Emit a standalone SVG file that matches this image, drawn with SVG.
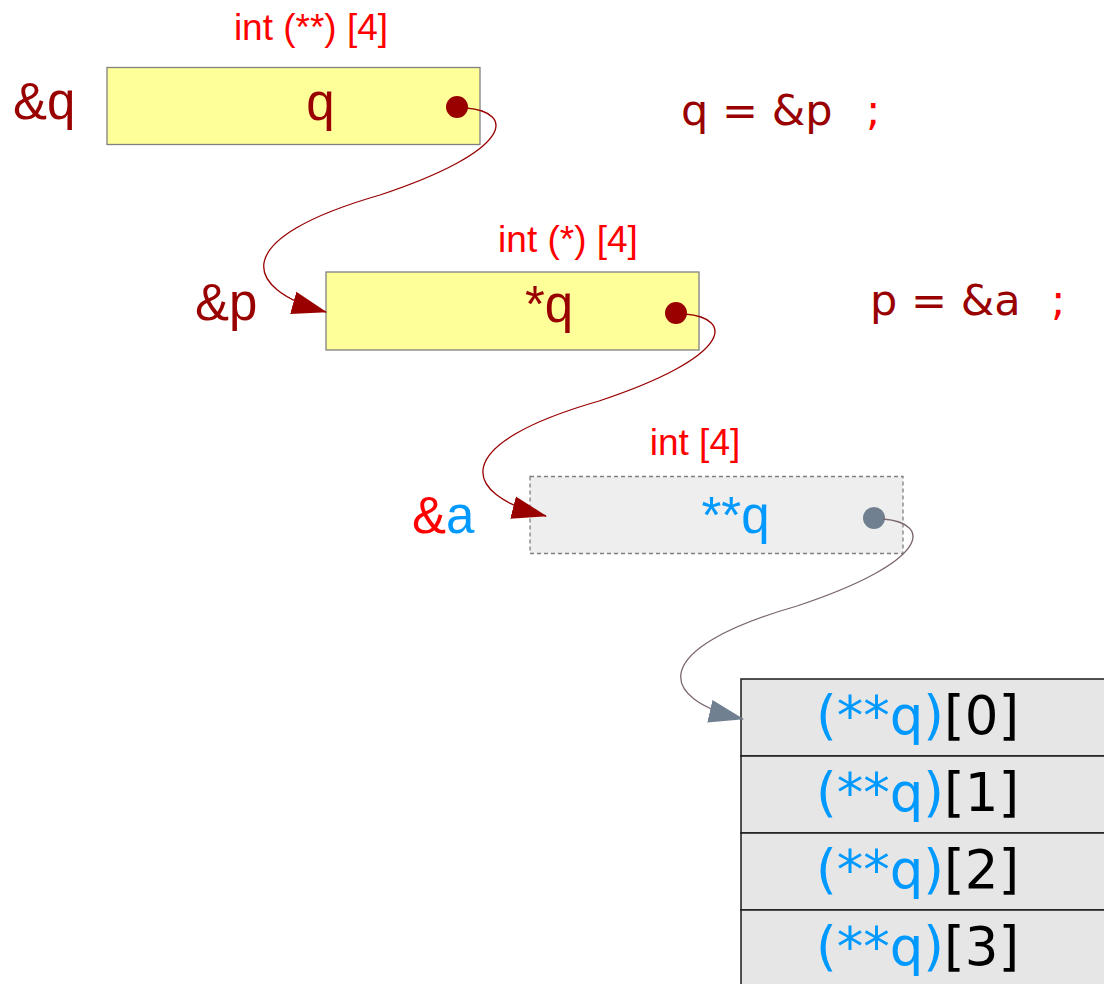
<svg xmlns="http://www.w3.org/2000/svg" width="1104" height="984" viewBox="0 0 1104 984">
<defs>
<style>
.lbl{font-family:"Liberation Sans",Arial,sans-serif;font-size:51px;fill:#990000}
.typ{font-family:"Liberation Sans",Arial,sans-serif;font-size:37px;fill:#ff0000;text-anchor:middle}
.stmt{font-family:"DejaVu Sans",sans-serif;font-size:43px;fill:#990000}
.semi{fill:#ff0000}
.box{fill:#ffff99;stroke:#808080;stroke-width:1.3}
.box3{fill:#eeeeee;stroke:#808080;stroke-width:1.3;stroke-dasharray:4 3}
.cell{fill:#e6e6e6;stroke:#1a1a1a;stroke-width:1.5}
.arr{font-family:"DejaVu Sans",sans-serif;font-size:53px;fill:#000000}
.blue{fill:#0099ff}
.c1{fill:none;stroke:#990000;stroke-width:1.3}
.c3{fill:none;stroke:#7a6672;stroke-width:1.3}
</style>
<marker id="ahRed" markerUnits="userSpaceOnUse" markerWidth="36" markerHeight="26" viewBox="0 -13 36 26" refX="34" refY="0" orient="auto">
<path d="M0,-11.5 L35,0 L0,11.5 z" fill="#990000"/>
</marker>
<marker id="ahGray" markerUnits="userSpaceOnUse" markerWidth="36" markerHeight="26" viewBox="0 -13 36 26" refX="34" refY="0" orient="auto">
<path d="M0,-11.5 L35,0 L0,11.5 z" fill="#708090"/>
</marker>
<path id="conn" d="M9,1 C58,5 58,43 -77,88 C-227,131 -217,181 -131,205"/>
</defs>
<rect width="1104" height="984" fill="#ffffff"/>

<g id="node-q">
<text class="typ" x="311" y="40">int (**) [4]</text>
<text class="lbl" x="13" y="119">&amp;q</text>
<rect class="box" x="107" y="67.5" width="373" height="77"/>
<text class="lbl" x="320.5" y="120" text-anchor="middle">q</text>
<circle cx="457" cy="107" r="11" fill="#990000"/>
</g>

<g id="node-p">
<text class="typ" x="568" y="252">int (*) [4]</text>
<text class="lbl" x="195" y="320">&amp;p</text>
<rect class="box" x="326" y="272" width="373" height="78"/>
<text class="lbl" x="549" y="322" text-anchor="middle">*q</text>
<circle cx="676" cy="313" r="11" fill="#990000"/>
</g>

<g id="node-a">
<text class="typ" x="695" y="455">int [4]</text>
<text class="lbl" x="412" y="533"><tspan fill="#ff0000">&amp;</tspan><tspan class="blue">a</tspan></text>
<rect class="box3" x="530" y="476.5" width="373" height="77"/>
<text class="lbl" x="735.5" y="533" text-anchor="middle" style="fill:#0099ff">**q</text>
<circle cx="874" cy="518" r="11" fill="#708090"/>
</g>

<g id="node-array">
<rect class="cell" x="741" y="679" width="400" height="77"/>
<rect class="cell" x="741" y="756" width="400" height="77"/>
<rect class="cell" x="741" y="833" width="400" height="77"/>
<rect class="cell" x="741" y="910" width="400" height="77"/>
<text class="arr" x="816" y="734"><tspan class="blue">(**q)</tspan>[0]</text>
<text class="arr" x="816" y="811"><tspan class="blue">(**q)</tspan>[1]</text>
<text class="arr" x="816" y="888"><tspan class="blue">(**q)</tspan>[2]</text>
<text class="arr" x="816" y="965"><tspan class="blue">(**q)</tspan>[3]</text>
</g>

<g id="stmt-1">
<text class="stmt" x="681" y="125">q = &amp;p</text>
<text class="stmt semi" x="866" y="125">;</text>
</g>
<g id="stmt-2">
<text class="stmt" x="870" y="315">p = &amp;a</text>
<text class="stmt semi" x="1051" y="315">;</text>
</g>

<g id="connectors">
<use href="#conn" class="c1" transform="translate(457,107)" marker-end="url(#ahRed)"/>
<path class="c1" d="M685,314 C734,318 734,356 599,401 C449,444 459,494 546,516" marker-end="url(#ahRed)"/>
<path class="c3" d="M883,519 C932,523 932,561 797,606 C647,649 657,699 743,719" marker-end="url(#ahGray)"/>
</g>
</svg>
